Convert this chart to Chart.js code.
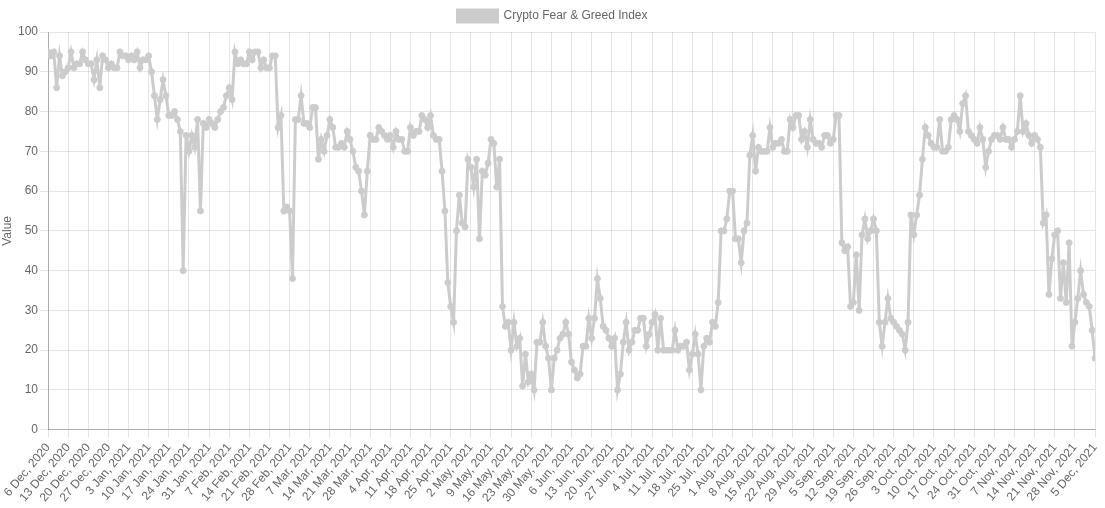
<!DOCTYPE html>
<html>
<head>
<meta charset="utf-8">
<title>Crypto Fear & Greed Index</title>
<script src="https://cdn.jsdelivr.net/npm/chart.js@4.4.0/dist/chart.umd.min.js"></script>
<style>
  html, body { margin: 0; padding: 0; background: #fff; }
</style>
</head>
<body>
<canvas id="fng" width="1105" height="508"></canvas>
<script>
// one label per week, 6 Dec 2020 .. 5 Dec 2021
const weekLabels = ["6 Dec, 2020","13 Dec, 2020","20 Dec, 2020","27 Dec, 2020","3 Jan, 2021","10 Jan, 2021","17 Jan, 2021","24 Jan, 2021","31 Jan, 2021","7 Feb, 2021","14 Feb, 2021","21 Feb, 2021","28 Feb, 2021","7 Mar, 2021","14 Mar, 2021","21 Mar, 2021","28 Mar, 2021","4 Apr, 2021","11 Apr, 2021","18 Apr, 2021","25 Apr, 2021","2 May, 2021","9 May, 2021","16 May, 2021","23 May, 2021","30 May, 2021","6 Jun, 2021","13 Jun, 2021","20 Jun, 2021","27 Jun, 2021","4 Jul, 2021","11 Jul, 2021","18 Jul, 2021","25 Jul, 2021","1 Aug, 2021","8 Aug, 2021","15 Aug, 2021","22 Aug, 2021","29 Aug, 2021","5 Sep, 2021","12 Sep, 2021","19 Sep, 2021","26 Sep, 2021","3 Oct, 2021","10 Oct, 2021","17 Oct, 2021","24 Oct, 2021","31 Oct, 2021","7 Nov, 2021","14 Nov, 2021","21 Nov, 2021","28 Nov, 2021","5 Dec, 2021"];

// daily index values, one row per week (day 0 = 6 Dec 2020)
const fngValues = [
  95, 94, 95, 86, 94, 89, 90,
  91, 95, 91, 92, 92, 95, 93,
  92, 92, 88, 93, 86, 94, 93,
  91, 92, 91, 91, 95, 94, 94,
  93, 94, 93, 95, 91, 93, 93,
  94, 90, 84, 78, 83, 88, 84,
  79, 79, 80, 78, 75, 40, 74,
  70, 74, 71, 78, 55, 77, 76,
  78, 77, 76, 78, 80, 81, 84,
  86, 83, 95, 92, 93, 92, 92,
  95, 93, 95, 95, 91, 93, 91,
  91, 94, 94, 76, 79, 55, 56,
  55, 38, 78, 78, 84, 77, 77,
  76, 81, 81, 68, 73, 70, 74,
  78, 76, 71, 71, 72, 71, 75,
  73, 70, 66, 65, 60, 54, 65,
  74, 73, 73, 76, 75, 74, 73,
  74, 71, 75, 73, 73, 70, 70,
  76, 74, 75, 75, 79, 78, 76,
  79, 74, 73, 73, 65, 55, 37,
  31, 27, 50, 59, 52, 51, 68,
  66, 61, 68, 48, 65, 64, 67,
  73, 72, 61, 68, 31, 26, 27,
  20, 27, 21, 23, 11, 19, 12,
  14, 10, 22, 22, 27, 21, 18,
  10, 18, 20, 23, 24, 27, 24,
  17, 15, 13, 14, 21, 21, 28,
  23, 28, 38, 33, 26, 25, 23,
  21, 23, 10, 14, 22, 27, 20,
  22, 25, 25, 28, 28, 21, 24,
  27, 29, 20, 28, 20, 20, 20,
  20, 25, 20, 21, 21, 22, 15,
  19, 24, 19, 10, 21, 23, 22,
  27, 26, 32, 50, 50, 53, 60,
  60, 48, 48, 42, 50, 52, 69,
  74, 65, 71, 70, 70, 70, 76,
  71, 72, 72, 73, 70, 70, 78,
  76, 79, 79, 73, 75, 71, 78,
  73, 72, 72, 71, 74, 74, 72,
  73, 79, 79, 47, 45, 46, 31,
  32, 44, 30, 49, 53, 48, 50,
  53, 50, 27, 21, 27, 33, 28,
  27, 26, 25, 24, 20, 27, 54,
  49, 54, 59, 68, 76, 74, 72,
  71, 71, 78, 70, 70, 71, 78,
  79, 78, 75, 82, 84, 75, 74,
  73, 72, 76, 73, 66, 70, 73,
  74, 74, 73, 76, 73, 73, 71,
  73, 75, 84, 75, 77, 74, 72,
  74, 73, 71, 52, 54, 34, 43,
  49, 50, 33, 42, 32, 47, 21,
  27, 33, 40, 34, 32, 31, 25,
  18
];

const grey = 'rgb(204, 204, 204)';
const points = fngValues.map((v, i) => ({ x: i, y: v }));

new Chart(document.getElementById('fng').getContext('2d'), {
  type: 'line',
  data: {
    datasets: [{
      label: 'Crypto Fear & Greed Index',
      data: points,
      borderColor: grey,
      backgroundColor: grey,
      borderWidth: 3,
      pointRadius: 3,
      pointBorderWidth: 1,
      fill: false,
      tension: 0
    }]
  },
  options: {
    responsive: false,
    animation: false,
    plugins: {
      legend: { display: true, position: 'top' },
      tooltip: { enabled: false }
    },
    scales: {
      x: {
        type: 'linear',
        min: 0,
        max: (weekLabels.length - 1) * 7,
        grid: { color: 'rgba(0,0,0,0.1)' },
        border: { color: 'rgba(0,0,0,0.25)' },
        ticks: {
          stepSize: 7,
          autoSkip: false,
          maxRotation: 50,
          minRotation: 50,
          callback: v => weekLabels[Math.round(v / 7)]
        },
        afterFit: s => { s.paddingRight = 10; s.paddingLeft = Math.min(s.paddingLeft, 48); }
      },
      y: {
        min: 0,
        max: 100,
        grid: { color: 'rgba(0,0,0,0.1)' },
        border: { color: 'rgba(0,0,0,0.25)' },
        ticks: { stepSize: 10, padding: 2 },
        title: { display: true, text: 'Value', padding: 0 },
        afterFit: s => { s.width = 48; }
      }
    }
  }
});
</script>
</body>
</html>
